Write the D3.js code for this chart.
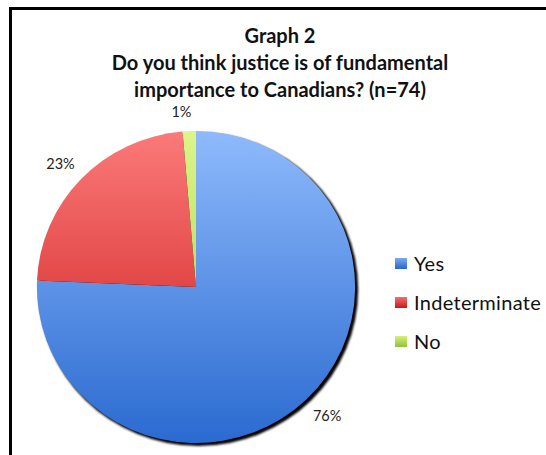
<!DOCTYPE html>
<html><head><meta charset="utf-8">
<script src="https://cdn.jsdelivr.net/npm/d3@7"></script>
<style>
html,body{margin:0;padding:0;background:#fff;}
svg{display:block;}
text{font-family:Lato,"Open Sans",sans-serif;}
</style></head>
<body>
<svg id="chart" width="546" height="455"></svg>
<script>
const categories = ["Yes", "Indeterminate", "No"];
const counts = [56, 17, 1];
const percentLabels = ["76%", "23%", "1%"];
const titleLines = ["Graph 2", "Do you think justice is of fundamental", "importance to Canadians? (n=74)"];

const svg = d3.select("#chart");
const defs = svg.append("defs");

const grads = [
  ["#8fbafc", "#2a6ad0"],
  ["#fc7a7a", "#c81414"],
  ["#dcf58a", "#9ccc3a"]
];
grads.forEach((g, i) => {
  const lg = defs.append("linearGradient").attr("id", "g" + i)
    .attr("gradientUnits", "userSpaceOnUse")
    .attr("x1", 0).attr("y1", -156).attr("x2", 0).attr("y2", 156);
  lg.append("stop").attr("offset", "0%").attr("stop-color", g[0]);
  lg.append("stop").attr("offset", "100%").attr("stop-color", g[1]);
});
const lgLegend = [["#7aaaf0", "#2a66cc"], ["#f27070", "#c81818"], ["#d6f07a", "#8fc23a"]];
lgLegend.forEach((g, i) => {
  const lg = defs.append("linearGradient").attr("id", "lg" + i)
    .attr("x1", 0).attr("y1", 0).attr("x2", 0).attr("y2", 1);
  lg.append("stop").attr("offset", "0%").attr("stop-color", g[0]);
  lg.append("stop").attr("offset", "100%").attr("stop-color", g[1]);
});
const blur = defs.append("filter").attr("id", "sh").attr("x", "-20%").attr("y", "-20%").attr("width", "140%").attr("height", "140%");
blur.append("feGaussianBlur").attr("stdDeviation", 0.8);

// frame
svg.append("rect").attr("x", 10.5).attr("y", 8.5).attr("width", 560).attr("height", 470)
  .attr("fill", "none").attr("stroke", "#000").attr("stroke-width", 3);

// title
const title = svg.append("g").attr("font-weight", "bold").attr("font-size", 20).attr("fill", "#111").attr("text-anchor", "middle");
titleLines.forEach((t, i) => {
  title.append("text").attr("x", 280).attr("y", 43 + i * 27).text(t);
});

const cx = 196, cy = 287, r = 156;
const g = svg.append("g").attr("transform", `translate(${cx},${cy}) scale(1.02,1)`);

// shadow
g.append("circle").attr("cx", 2.4).attr("cy", 2.4).attr("r", r + 0.6)
  .attr("fill", "#000").attr("filter", "url(#sh)");

const pie = d3.pie().sort(null).value(d => d)(counts);
const arc = d3.arc().innerRadius(0).outerRadius(r);
g.selectAll("path.slice").data(pie).join("path").attr("class", "slice")
  .attr("d", arc).attr("fill", (d, i) => `url(#g${i})`);

// labels
const lg2 = svg.append("g").attr("transform", `translate(${cx},${cy})`);
const labelArc = d3.arc().innerRadius(r + 22).outerRadius(r + 22);
const labelOffsets = [[8, 0], [-7, 0], [-7, 3]];
lg2.selectAll("text.lab").data(pie).join("text").attr("class", "lab")
  .attr("font-size", 14.5).attr("fill", "#222").attr("text-anchor", "middle")
  .attr("transform", (d, i) => {
    const c = labelArc.centroid(d);
    return `translate(${c[0] + labelOffsets[i][0]},${c[1] + labelOffsets[i][1] + 5})`;
  })
  .text((d, i) => percentLabels[i]);

// legend
const legend = svg.append("g");
categories.forEach((c, i) => {
  const y = 264 + i * 39;
  legend.append("rect").attr("x", 395).attr("y", y - 6).attr("width", 12).attr("height", 11)
    .attr("fill", `url(#lg${i})`);
  legend.append("text").attr("x", 414).attr("y", y + 6.5).attr("font-size", 20).attr("letter-spacing", 0.3).attr("fill", "#111").text(c);
});
</script>
</body></html>
